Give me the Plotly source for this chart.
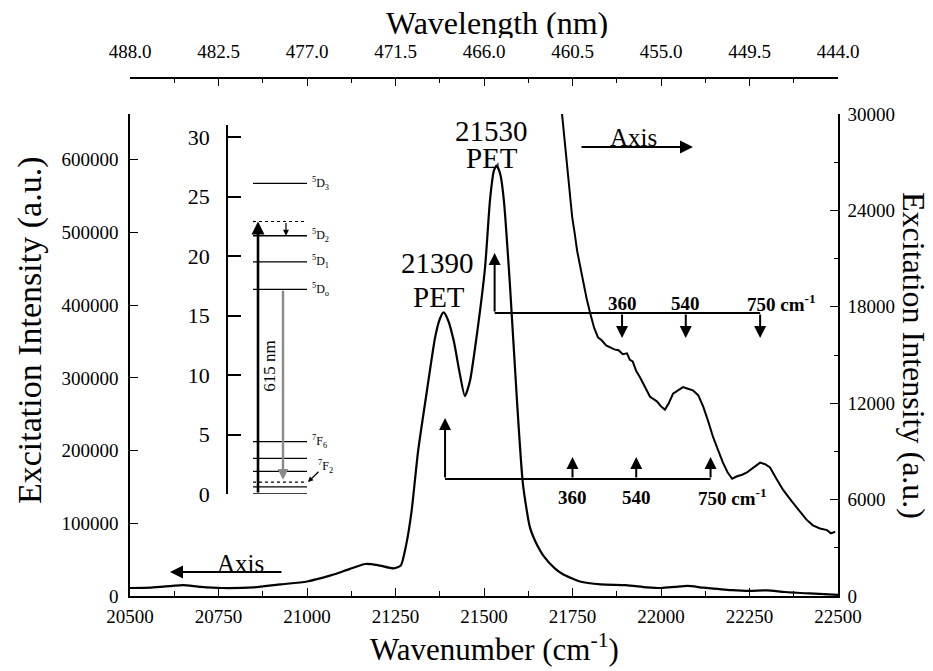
import plotly.graph_objects as go

# ---------------- data ----------------
wavenumber_main = [20500, 20560, 20620, 20650, 20700, 20760, 20850, 20925, 21000, 21065,
                   21120, 21165, 21200, 21245, 21265, 21280, 21295, 21314, 21339, 21362,
                   21376, 21386, 21398, 21415, 21430, 21446, 21460, 21480, 21503, 21517,
                   21528, 21536, 21546, 21556, 21573, 21593, 21610, 21630, 21650, 21667,
                   21700, 21723, 21771, 21830, 21900, 21960, 22000, 22040, 22075, 22120,
                   22200, 22250, 22300, 22350, 22420, 22500]
intensity_main = [11000, 11500, 14000, 15000, 12500, 11000, 12000, 16000, 20000, 28000,
                  37000, 44000, 42500, 38000, 42000, 70000, 115000, 200000, 283000, 356000,
                  382000, 390000, 380000, 350000, 310000, 275000, 295000, 360000, 452000, 545000,
                  585000, 592000, 580000, 545000, 430000, 270000, 154000, 94000, 70000, 56000,
                  38000, 30000, 20000, 16000, 15000, 12000, 11000, 12500, 13800, 11500,
                  8000, 7000, 7800, 5500, 3500, 1500]

wavenumber_zoom = [21716, 21725, 21734, 21742, 21749, 21756, 21763, 21771, 21780, 21790,
                   21800, 21811, 21822, 21833, 21845, 21856, 21868, 21880, 21892, 21904,
                   21912, 21920, 21930, 21941, 21955, 21969, 21979, 21989, 22000, 22011,
                   22022, 22034, 22048, 22062, 22076, 22090, 22105, 22119, 22133, 22147,
                   22161, 22175, 22188, 22201, 22215, 22229, 22243, 22262, 22280, 22294,
                   22308, 22326, 22345, 22369, 22393, 22411, 22429, 22449, 22469, 22480, 22492]
intensity_zoom = [31000, 29000, 26700, 25200, 23600, 22600, 21500, 20600, 19500, 18500,
                  17600, 16700, 16100, 15900, 15600, 15500, 15350, 15300, 15050, 15100,
                  14700, 14600, 14000, 13600, 13000, 12400, 12250, 12100, 11800, 11600,
                  12000, 12600, 12800, 13000, 12900, 12800, 12500, 11800, 10900, 9900,
                  9100, 8300, 7700, 7300, 7450, 7550, 7700, 8000, 8300, 8200,
                  8000, 7300, 6600, 5900, 5200, 4750, 4400, 4200, 4100, 3900, 4000]

bottom_ticks = [20500, 20750, 21000, 21250, 21500, 21750, 22000, 22250, 22500]
bottom_labels = ["20500", "20750", "21000", "21250", "21500", "21750", "22000", "22250", "22500"]
left_ticks = [0, 100000, 200000, 300000, 400000, 500000, 600000]
right_ticks = [0, 6000, 12000, 18000, 24000, 30000]
wavelength_ticks = [488.0, 482.5, 477.0, 471.5, 466.0, 460.5, 455.0, 449.5, 444.0]
wavelength_labels = ["488.0", "482.5", "477.0", "471.5", "466.0", "460.5", "455.0", "449.5", "444.0"]

pet_peaks = [21390, 21530]
pet_labels = ["21390", "21530"]
vib_offsets = [360, 540, 750]
vib_labels = ["360", "540", "750"]

inset_ticks = [0, 5, 10, 15, 20, 25, 30]
level_energies = [26.1, 21.7, 19.5, 17.2, 4.4, 3.0, 1.9, 0.6, 0.0]
dotted_levels = [22.9, 1.0]
level_labels = ["<sup>5</sup>D<sub>3</sub>", "<sup>5</sup>D<sub>2</sub>", "<sup>5</sup>D<sub>1</sub>",
                "<sup>5</sup>D<sub>o</sub>", "<sup>7</sup>F<sub>6</sub>", "<sup>7</sup>F<sub>2</sub>",
                "<sup>7</sup>F<sub>o</sub>"]
level_label_energies = [26.1, 21.7, 19.5, 17.2, 4.4, 2.3, -0.3]

# ---------------- geometry helpers (window pixel -> axis units) ----------------
OFF = 8                      # page body margin
W, H = 933 - OFF, 671 - OFF
ML, MR, MT, MB = 130 - OFF, 95, 78 - OFF, 75
PW, PH = W - ML - MR, H - MT - MB
X0 = 130                     # window column of left axis
Y0 = 596                     # window row of the bottom axis
YTOP = 114                   # window row of the top of the left/right axes
LEFT_MAX = 663000
RIGHT_MAX = 30000
DOM_TOP = (Y0 - YTOP) / PH

def yl(py):
    return (Y0 - py) * LEFT_MAX / (Y0 - YTOP)

def yr(py):
    return (Y0 - py) * RIGHT_MAX / (Y0 - YTOP)

def xw(px):
    return 20500 + (px - X0) * 2000 / PW

def px_x(px):
    return (px - X0) / PW

def px_y(py):
    return (Y0 - py) / PH

FONT = "Liberation Serif"
BLACK = "black"

fig = go.Figure()

fig.add_trace(go.Scatter(x=wavenumber_main, y=intensity_main, mode="lines",
                         line=dict(color=BLACK, width=2.2, shape="spline", smoothing=0.6),
                         xaxis="x", yaxis="y", showlegend=False, hoverinfo="skip"))
fig.add_trace(go.Scatter(x=wavenumber_zoom, y=intensity_zoom, mode="lines",
                         line=dict(color=BLACK, width=2),
                         xaxis="x", yaxis="y2", showlegend=False, hoverinfo="skip"))
# dummy trace so the wavelength axis is drawn
fig.add_trace(go.Scatter(x=[wavelength_ticks[0], wavelength_ticks[-1]], y=[None, None],
                         xaxis="x2", yaxis="y", showlegend=False, hoverinfo="skip"))

def ann(**kw):
    d = dict(xanchor="center", yanchor="middle")
    d.update(kw)
    return d

# ---------- vibronic brackets ----------
bracket_specs = [
    # peak, horizontal row, vertical arrow tip, side arrow tip, label row
    (pet_peaks[0], 479, 418, 457, 497),
    (pet_peaks[1], 313, 253, 338, 303),
]
annotations = []
for peak, hrow, vtip, stip, lrow in bracket_specs:
    fig.add_trace(go.Scatter(x=[peak, peak + vib_offsets[-1]], y=[yl(hrow), yl(hrow)],
                             mode="lines", line=dict(color=BLACK, width=2),
                             xaxis="x", yaxis="y", showlegend=False, hoverinfo="skip"))
    annotations.append(dict(x=peak, y=yl(vtip), ax=peak, ay=yl(hrow), xref="x", yref="y",
                            axref="x", ayref="y", showarrow=True, arrowhead=2, arrowsize=1.2,
                            arrowwidth=2, arrowcolor=BLACK, text=""))
    for off, lab in zip(vib_offsets, vib_labels):
        annotations.append(dict(x=peak + off, y=yl(stip), ax=peak + off, ay=yl(hrow),
                                xref="x", yref="y", axref="x", ayref="y", showarrow=True,
                                arrowhead=2, arrowsize=1.2, arrowwidth=2, arrowcolor=BLACK, text=""))
        if lab == vib_labels[-1]:
            annotations.append(ann(x=peak + off, y=yl(lrow), xref="x", yref="y", showarrow=False,
                                   text="<b>750 cm<sup>-1</sup></b>", xanchor="left", xshift=-15,
                                   font=dict(family=FONT, size=19, color=BLACK)))
        else:
            annotations.append(ann(x=peak + off, y=yl(lrow), xref="x", yref="y", showarrow=False,
                                   text="<b>%s</b>" % lab,
                                   font=dict(family=FONT, size=19, color=BLACK)))

# ---------- peak labels ----------
peak_label_rows = [(263, 297), (131, 158)]
for peak, lab, (r1, r2) in zip(pet_peaks, pet_labels, peak_label_rows):
    annotations.append(ann(x=peak, y=yl(r1), xref="x", yref="y", showarrow=False, text=lab,
                           xshift=-8 if peak == pet_peaks[0] else -3, height=26,
                           font=dict(family=FONT, size=29, color=BLACK)))
    annotations.append(ann(x=peak, y=yl(r2), xref="x", yref="y", showarrow=False, text="PET",
                           xshift=-6 if peak == pet_peaks[0] else -3, height=26,
                           font=dict(family=FONT, size=29, color=BLACK)))

# ---------- "Axis" arrows ----------
annotations.append(dict(x=xw(693), y=yr(147), ax=xw(580), ay=yr(147), xref="x", yref="y2",
                        axref="x", ayref="y2", showarrow=True, arrowhead=2, arrowsize=1.3,
                        arrowwidth=2, arrowcolor=BLACK, text=""))
annotations.append(ann(x=xw(633), y=yr(137), xref="x", yref="y2", showarrow=False, text="Axis",
                       font=dict(family=FONT, size=25, color=BLACK)))
annotations.append(dict(x=xw(170), y=yl(572), ax=xw(283), ay=yl(572), xref="x", yref="y",
                        axref="x", ayref="y", showarrow=True, arrowhead=2, arrowsize=1.3,
                        arrowwidth=2, arrowcolor=BLACK, text=""))
annotations.append(ann(x=xw(240), y=yl(563), xref="x", yref="y", showarrow=False, text="Axis",
                       font=dict(family=FONT, size=25, color=BLACK)))

# ---------- inset energy level diagram ----------
lx0, lx1 = 0.25, 0.79
lev_x, lev_y = [], []
for e in level_energies:
    lev_x += [lx0, lx1, None]
    lev_y += [e, e, None]
fig.add_trace(go.Scatter(x=lev_x, y=lev_y, mode="lines", line=dict(color=BLACK, width=1.3),
                         xaxis="x3", yaxis="y3", showlegend=False, hoverinfo="skip"))
dot_x, dot_y = [], []
for e in dotted_levels:
    dot_x += [lx0, lx1, None]
    dot_y += [e, e, None]
fig.add_trace(go.Scatter(x=dot_x, y=dot_y, mode="lines", line=dict(color=BLACK, width=1.2, dash="dot"),
                         xaxis="x3", yaxis="y3", showlegend=False, hoverinfo="skip"))

for lab, e in zip(level_labels, level_label_energies):
    annotations.append(ann(x=0.82 if "F<sub>2" not in lab else 0.88, y=e, xref="x3", yref="y3",
                           showarrow=False, text=lab, xanchor="left",
                           font=dict(family=FONT, size=12, color=BLACK)))
# excitation arrow
annotations.append(dict(x=0.30, y=dotted_levels[0], ax=0.30, ay=level_energies[-1], xref="x3", yref="y3",
                        axref="x3", ayref="y3", showarrow=True, arrowhead=2, arrowsize=1.0,
                        arrowwidth=2.6, arrowcolor=BLACK, text=""))
# relaxation arrow
annotations.append(dict(x=0.58, y=level_energies[1], ax=0.58, ay=dotted_levels[0], xref="x3", yref="y3",
                        axref="x3", ayref="y3", showarrow=True, arrowhead=2, arrowsize=1.0,
                        arrowwidth=1.2, arrowcolor=BLACK, text=""))
# 615 nm emission arrow
annotations.append(dict(x=0.55, y=1.2, ax=0.55, ay=level_energies[3], xref="x3", yref="y3",
                        axref="x3", ayref="y3", showarrow=True, arrowhead=2, arrowsize=0.9,
                        arrowwidth=2.4, arrowcolor="#8a8a8a", text=""))
annotations.append(ann(x=0.42, y=10.7, xref="x3", yref="y3", showarrow=False, text="615 nm",
                       textangle=-90, font=dict(family=FONT, size=17, color=BLACK)))
# pointer to 7F2
annotations.append(dict(x=0.80, y=dotted_levels[1], ax=0.92, ay=2.0, xref="x3", yref="y3",
                        axref="x3", ayref="y3", showarrow=True, arrowhead=2, arrowsize=0.8,
                        arrowwidth=1.3, arrowcolor=BLACK, text=""))

# ---------- axis titles ----------
annotations += [
    ann(x=px_x(497), y=px_y(23), xref="paper", yref="paper", showarrow=False, height=30,
        text="Wavelength (nm)", font=dict(family=FONT, size=32, color=BLACK)),
    ann(x=px_x(494), y=px_y(647), xref="paper", yref="paper", showarrow=False,
        text="Wavenumber (cm<sup>-1</sup>)", font=dict(family=FONT, size=31, color=BLACK)),
    ann(x=px_x(30), y=px_y(331), xref="paper", yref="paper", showarrow=False, textangle=-90,
        text="Excitation Intensity (a.u.)", font=dict(family=FONT, size=34, color=BLACK)),
    ann(x=px_x(914), y=px_y(355), xref="paper", yref="paper", showarrow=False, textangle=90,
        text="Excitation Intensity (a.u.)", font=dict(family=FONT, size=32, color=BLACK)),
]

tickfont = dict(family=FONT, size=19, color=BLACK)
axis_common = dict(showgrid=False, zeroline=False, showline=True, linecolor=BLACK, linewidth=1.6,
                   ticks="inside", tickcolor=BLACK, tickwidth=1.4, tickfont=tickfont)

inset_bottom_px = 494
inset_top_px = 494 - 31 * 11.9

fig.update_layout(
    width=W, height=H, margin=dict(l=ML, r=MR, t=MT, b=MB),
    paper_bgcolor="white", plot_bgcolor="white", showlegend=False,
    xaxis=dict(range=[20500, 22500], domain=[0, 1], anchor="y", tickvals=bottom_ticks,
               ticktext=bottom_labels, ticklen=8, ticklabelstandoff=2,
               minor=dict(dtick=125, tick0=20500, ticks="inside", ticklen=5, tickcolor=BLACK),
               **axis_common),
    yaxis=dict(range=[0, LEFT_MAX], domain=[0, DOM_TOP], anchor="x", tickvals=left_ticks,
               tickformat="d", ticklen=8, ticklabelstandoff=6, **axis_common),
    yaxis2=dict(range=[0, RIGHT_MAX], overlaying="y", side="right", anchor="x",
                tickvals=right_ticks, tickformat="d", ticklen=8, ticklabelstandoff=4,
                minor=dict(dtick=3000, tick0=0, ticks="inside", ticklen=4, tickcolor=BLACK),
                **axis_common),
    xaxis2=dict(range=[488.0, 444.0], overlaying="x", side="top", anchor="free", position=1,
                tickvals=wavelength_ticks, ticktext=wavelength_labels, ticklen=7,
                ticklabelstandoff=12,
                minor=dict(dtick=2.75, tick0=488.0, ticks="inside", ticklen=4, tickcolor=BLACK),
                **axis_common),
    xaxis3=dict(range=[0, 1], domain=[px_x(228), px_x(328)], anchor="y3", visible=False),
    yaxis3=dict(range=[0, 31], domain=[px_y(inset_bottom_px), px_y(inset_top_px)], anchor="x3",
                tickvals=inset_ticks, ticklen=13, ticklabelstandoff=12,
                showgrid=False, zeroline=False, showline=True, linecolor=BLACK, linewidth=1.6,
                ticks="inside", tickcolor=BLACK, tickwidth=1.6,
                tickfont=dict(family=FONT, size=22, color=BLACK)),
    annotations=annotations,
)

fig.write_html("out.html")
